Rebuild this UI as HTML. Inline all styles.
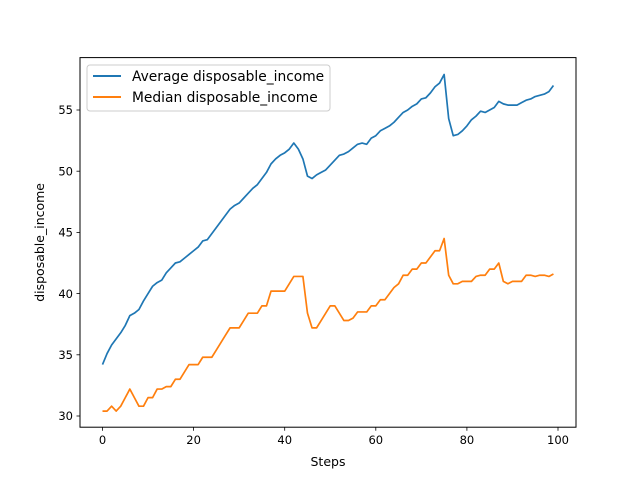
<!DOCTYPE html>
<html><head><meta charset="utf-8"><style>
body{margin:0;background:#fff;}
svg text{font-family:"DejaVu Sans","Liberation Sans",sans-serif;fill:#000;}
</style></head><body>
<svg id="chart" width="640" height="480" viewBox="0 0 640 480">
<rect width="640" height="480" fill="#fff"/>
<g id="plot"></g>
<rect x="80" y="57.6" width="496" height="369.6" fill="none" stroke="#000" stroke-width="1"/>
<g id="xticks"></g>
<g id="yticks"></g>
<text x="328" y="466" font-size="12.5" text-anchor="middle">Steps</text>
<text transform="translate(44,242.4) rotate(-90)" font-size="12.5" text-anchor="middle">disposable_income</text>
<g>
<rect x="87" y="65" width="243" height="46" rx="3" fill="#fff" fill-opacity="0.8" stroke="#ccc"/>
<g>
<line x1="93" y1="76" x2="121" y2="76" stroke="#1f77b4" stroke-width="2"/>
<text x="132" y="81" font-size="13.8">Average disposable_income</text></g>
<g>
<line x1="93" y1="97" x2="121" y2="97" stroke="#ff7f0e" stroke-width="2"/>
<text x="132" y="102" font-size="13.8">Median disposable_income</text></g>
</g>
</svg>
<script>
const averageValues=[34.2,35.1,35.8,36.3,36.8,37.4,38.2,38.4,38.7,39.4,40.0,40.6,40.9,41.1,41.7,42.1,42.5,42.6,42.9,43.2,43.5,43.8,44.3,44.4,44.9,45.4,45.9,46.4,46.9,47.2,47.4,47.8,48.2,48.6,48.9,49.4,49.9,50.6,51.0,51.3,51.5,51.8,52.3,51.8,51.0,49.6,49.4,49.7,49.9,50.1,50.5,50.9,51.3,51.4,51.6,51.9,52.2,52.3,52.2,52.7,52.9,53.3,53.5,53.7,54.0,54.4,54.8,55.0,55.3,55.5,55.9,56.0,56.4,56.9,57.2,57.9,54.3,52.9,53.0,53.3,53.7,54.2,54.5,54.9,54.8,55.0,55.2,55.7,55.5,55.4,55.4,55.4,55.6,55.8,55.9,56.1,56.2,56.3,56.5,57.0];
const medianValues=[30.4,30.4,30.8,30.4,30.8,31.5,32.2,31.5,30.8,30.8,31.5,31.5,32.2,32.2,32.4,32.4,33.0,33.0,33.6,34.2,34.2,34.2,34.8,34.8,34.8,35.4,36.0,36.6,37.2,37.2,37.2,37.8,38.4,38.4,38.4,39.0,39.0,40.2,40.2,40.2,40.2,40.8,41.4,41.4,41.4,38.4,37.2,37.2,37.8,38.4,39.0,39.0,38.4,37.8,37.8,38.0,38.5,38.5,38.5,39.0,39.0,39.5,39.5,40.0,40.5,40.8,41.5,41.5,42.0,42.0,42.5,42.5,43.0,43.5,43.5,44.5,41.5,40.8,40.8,41.0,41.0,41.0,41.4,41.5,41.5,42.0,42.0,42.5,41.0,40.8,41.0,41.0,41.0,41.5,41.5,41.4,41.5,41.5,41.4,41.6];
const xTickLabels=[0,20,40,60,80,100];
const yTickLabels=[30,35,40,45,50,55];
const NS="http://www.w3.org/2000/svg";
function xs(v){return 102.5+(v)*4.555;}
function ys(v){return 416-(v-30)*12.24;}
function mk(tag,attrs,parent){const e=document.createElementNS(NS,tag);for(const k in attrs)e.setAttribute(k,attrs[k]);parent.appendChild(e);return e;}
const plot=document.getElementById('plot');
function series(vals,color,name){
  const pts=vals.map((v,i)=>xs(i).toFixed(2)+","+ys(v).toFixed(2)).join(" ");
  const p=mk('polyline',{points:pts,fill:'none',stroke:color,'stroke-width':1.7,'stroke-linejoin':'round'},plot);
  
  
}
series(averageValues,'#1f77b4','average-line');
series(medianValues,'#ff7f0e','median-line');
const xt=document.getElementById('xticks');
xTickLabels.forEach(v=>{
  const x=xs(v);
  mk('line',{x1:x,y1:427.2,x2:x,y2:430.7,stroke:'#000','stroke-width':0.8},xt);
  const t=mk('text',{x:x,y:444,'font-size':11.5,'text-anchor':'middle'},xt);
  t.textContent=v;
  
  
});
const yt=document.getElementById('yticks');
yTickLabels.forEach(v=>{
  const y=ys(v);
  mk('line',{x1:76.5,y1:y,x2:80,y2:y,stroke:'#000','stroke-width':0.8},yt);
  const t=mk('text',{x:73,y:y+4.2,'font-size':11.5,'text-anchor':'end'},yt);
  t.textContent=v;
  
  
});
</script>
</body></html>
